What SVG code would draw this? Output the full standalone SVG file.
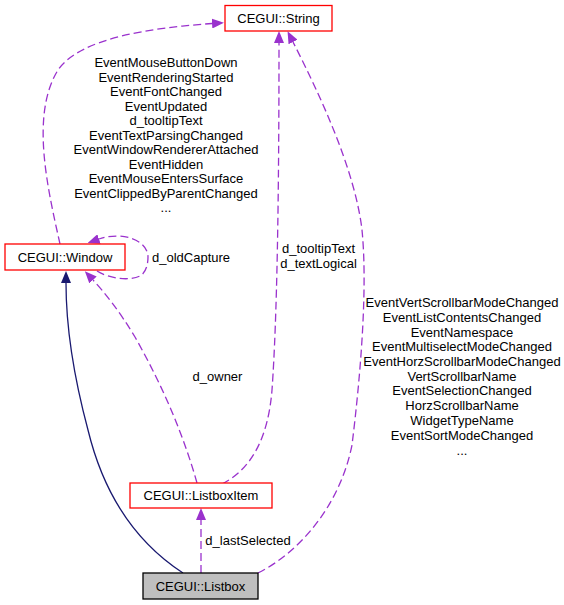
<svg xmlns="http://www.w3.org/2000/svg" width="564" height="605" viewBox="0 0 564 605">
<style>
text{font-family:"Liberation Sans",Helvetica,Arial,sans-serif;font-size:13px;fill:#000;text-anchor:middle}
.box{fill:#fff;stroke:#ff0000;stroke-width:1.3}
.cur{fill:#bfbfbf;stroke:#000;stroke-width:1.3}
.dash{fill:none;stroke:#9a32cd;stroke-width:1.3;stroke-dasharray:8,4}
.inh{fill:none;stroke:#191970;stroke-width:1.3}
</style>
<defs>
<marker id="ap" viewBox="0 0 12 10" refX="0" refY="5" markerWidth="12" markerHeight="10" markerUnits="userSpaceOnUse" orient="auto">
<path d="M0,0 L12,5 L0,10 z" fill="#9a32cd"/>
</marker>
<marker id="an" viewBox="0 0 12 10" refX="0" refY="5" markerWidth="12" markerHeight="10" markerUnits="userSpaceOnUse" orient="auto">
<path d="M0,0 L12,5 L0,10 z" fill="#191970"/>
</marker>
</defs>
<rect width="564" height="605" fill="#fff"/>
<g id="connectors">
<path class="inh" marker-end="url(#an)" d="M183,573 C140,545 105,500 88,430 C72,370 66,320 66,283"/>
<path class="dash" marker-end="url(#ap)" d="M60,244 C48,190 30,115 58,70 C80,38 150,28 212,23.5"/>
<path class="dash" marker-end="url(#ap)" d="M97,271 C110,279 130,281 140,276 C147,272 148,262 148,257 C148,240 122,231 99,239"/>
<path class="dash" marker-end="url(#ap)" d="M197,483 C185,440 165,390 135,337 C120,312 105,293 93,280"/>
<path class="dash" marker-end="url(#ap)" d="M222,484 C250,470 268,440 272,390 C277,320 279,200 279,43"/>
<path class="dash" marker-end="url(#ap)" d="M258,573 C300,552 340,505 352,445 C360,380 368,290 362,230 C355,170 320,95 293,42"/>
<path class="dash" marker-end="url(#ap)" d="M201,573 L201,520"/>
<g id="labels">
<text x="166" y="67">EventMouseButtonDown</text>
<text x="166" y="81.5">EventRenderingStarted</text>
<text x="166" y="96">EventFontChanged</text>
<text x="166" y="110.5">EventUpdated</text>
<text x="166" y="125">d_tooltipText</text>
<text x="166" y="139.5">EventTextParsingChanged</text>
<text x="166" y="154">EventWindowRendererAttached</text>
<text x="166" y="168.5">EventHidden</text>
<text x="166" y="183">EventMouseEntersSurface</text>
<text x="166" y="197.5">EventClippedByParentChanged</text>
<text x="166" y="212">...</text>
<text x="191" y="261.5">d_oldCapture</text>
<text x="318.5" y="252.5">d_tooltipText</text>
<text x="318.5" y="267.5">d_textLogical</text>
<text x="217.5" y="381">d_owner</text>
<text x="462" y="307">EventVertScrollbarModeChanged</text>
<text x="462" y="322">EventListContentsChanged</text>
<text x="462" y="336.5">EventNamespace</text>
<text x="462" y="351">EventMultiselectModeChanged</text>
<text x="462" y="366">EventHorzScrollbarModeChanged</text>
<text x="462" y="381">VertScrollbarName</text>
<text x="462" y="395">EventSelectionChanged</text>
<text x="462" y="410">HorzScrollbarName</text>
<text x="462" y="425">WidgetTypeName</text>
<text x="462" y="439.5">EventSortModeChanged</text>
<text x="462" y="455">...</text>
<text x="248" y="544.5">d_lastSelected</text>
</g>
</g>
<g id="node-string">
<rect class="box" x="225" y="5.5" width="107" height="25.5"/>
<text x="278.5" y="22.5">CEGUI::String</text>
</g>
<g id="node-window">
<rect class="box" x="5" y="244" width="120" height="26"/>
<text x="65" y="261.5">CEGUI::Window</text>
</g>
<g id="node-listboxitem">
<rect class="box" x="130" y="483" width="142" height="25"/>
<text x="201" y="500">CEGUI::ListboxItem</text>
</g>
<g id="node-listbox">
<rect class="cur" x="143" y="573" width="115" height="26"/>
<text x="200.5" y="590.5">CEGUI::Listbox</text>
</g>
</svg>
